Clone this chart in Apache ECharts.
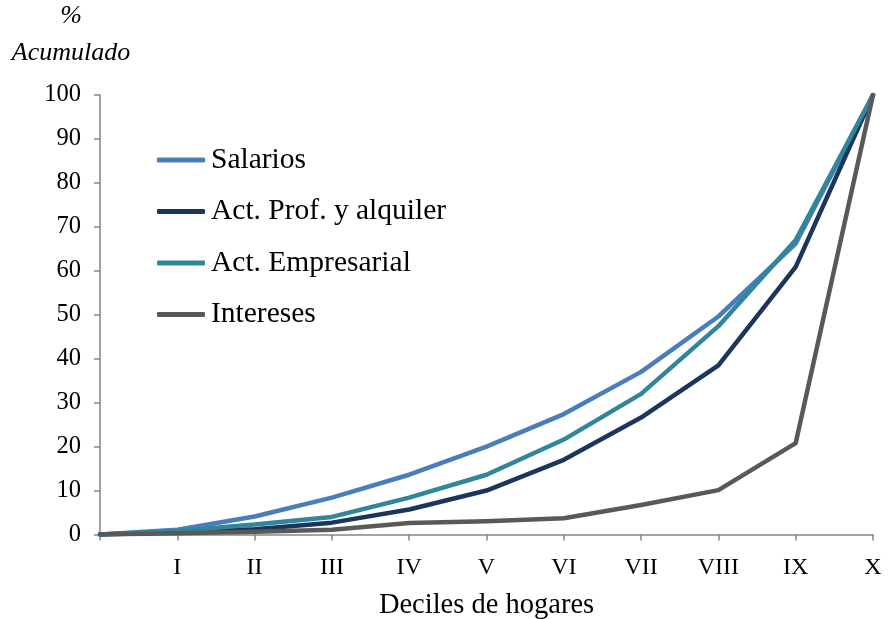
<!DOCTYPE html>
<html>
<head>
<meta charset="utf-8">
<script src="https://cdn.jsdelivr.net/npm/echarts@6/dist/echarts.min.js"></script>
<style>html,body{margin:0;padding:0;background:#fff}#c{width:888px;height:619px}</style>
</head>
<body>
<div id="c"></div>
<script>
var categories = ['', 'I', 'II', 'III', 'IV', 'V', 'VI', 'VII', 'VIII', 'IX', 'X'];
var salarios = [0, 1.1, 4.1, 8.4, 13.6, 20, 27.4, 37, 49.6, 66.2, 100];
var actProf = [0, 0.5, 1.2, 2.7, 5.7, 10, 17, 26.6, 38.5, 60.9, 100];
var actEmp = [0, 0.8, 2.3, 4, 8.4, 13.6, 21.6, 32, 47.4, 67, 100];
var intereses = [0, 0.3, 0.6, 1.1, 2.6, 3, 3.7, 6.7, 10.1, 20.8, 100];
var yTicks = [0, 10, 20, 30, 40, 50, 60, 70, 80, 90, 100];

var font = 'Liberation Serif';
var axisColor = '#868686';
function s(name, data, color) {
  return {name: name, type: 'line', data: data, symbol: 'none',
    lineStyle: {width: 4.5, color: color, cap: 'round', join: 'round'}, itemStyle: {color: color}};
}
var chart = echarts.init(document.getElementById('c'));
chart.setOption({
  animation: false,
  grid: {left: 100, right: 15, top: 95, bottom: 84.5, containLabel: false, outerBoundsMode: 'none'},
  legend: {
    orient: 'vertical', left: 157, top: 144, itemWidth: 48, itemHeight: 5, padding: 0,
    itemGap: 19.5, icon: 'roundRect',
    textStyle: {fontFamily: font, fontSize: 29.5, color: '#000', lineHeight: 32, padding: [0, 0, 0, 1]},
    data: ['Salarios', 'Act. Prof. y alquiler', 'Act. Empresarial', 'Intereses']
  },
  graphic: [{
    type: 'text', x: 71, y: -2,
    style: {text: '%\nAcumulado', textAlign: 'center', fontFamily: font, fontStyle: 'italic',
      fontSize: 26, lineHeight: 37, fill: '#000'}
  }],
  xAxis: {
    type: 'category', data: categories, boundaryGap: false,
    name: 'Deciles de hogares', nameLocation: 'middle', nameGap: 57,
    nameTextStyle: {fontFamily: font, fontSize: 28.5, color: '#000'},
    axisLine: {lineStyle: {color: axisColor, width: 1.5}},
    axisTick: {show: true, inside: false, length: 6, alignWithLabel: true, lineStyle: {color: axisColor, width: 1.5}},
    axisLabel: {fontFamily: font, fontSize: 24, color: '#000', margin: 21, interval: 0},
    splitLine: {show: false}
  },
  yAxis: {
    type: 'value', min: 0, max: 100, interval: 10,
    axisLine: {show: true, lineStyle: {color: axisColor, width: 1.5}},
    axisTick: {show: true, length: 6, lineStyle: {color: axisColor, width: 1.5}},
    axisLabel: {fontFamily: font, fontSize: 24.5, color: '#000', margin: 19,
      formatter: function (v) { return yTicks.indexOf(v) >= 0 ? String(v) : ''; }},
    splitLine: {show: false}
  },
  series: [
    s('Salarios', salarios, '#4a7ebb'),
    s('Act. Prof. y alquiler', actProf, '#1b365d'),
    s('Act. Empresarial', actEmp, '#31859c'),
    s('Intereses', intereses, '#595959')
  ]
});
</script>
</body>
</html>
